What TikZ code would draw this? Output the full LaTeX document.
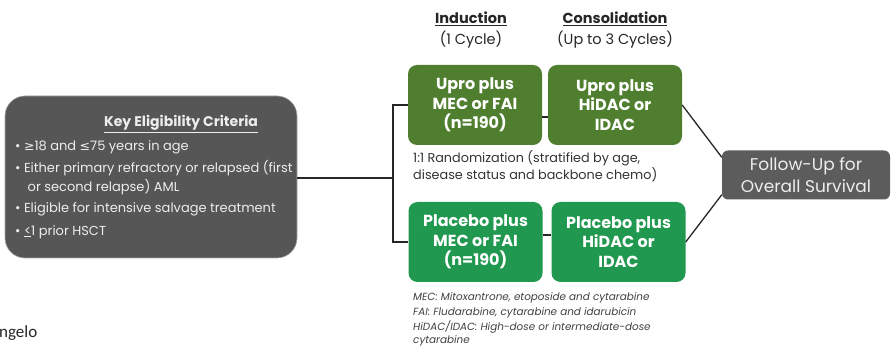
\documentclass[tikz,border=0pt]{standalone}
\usepackage{fontspec}
\setmainfont{Poppins}
\newfontfamily\symfont{DejaVu Sans}
\newfontfamily\notefont{Carlito}
\definecolor{boxgray}{HTML}{565656}
\definecolor{fugray}{HTML}{5C5C5C}
\definecolor{olivegreen}{HTML}{4F7E2F}
\definecolor{brightgreen}{HTML}{20984F}
\definecolor{softwhite}{HTML}{EDEDED}
\begin{document}
\begin{tikzpicture}[x=1pt,y=-1pt,
  critbox/.style={fill=boxgray,draw=gray!70,line width=0.6pt,rounded corners=20pt,
    minimum width=292pt,minimum height=162pt,inner sep=0pt},
  armbox/.style={rounded corners=9pt,minimum width=134pt,minimum height=80pt,
    inner sep=0pt,text=white,align=center,font=\fontsize{16}{19.5}\selectfont\bfseries},
  upro/.style={armbox,fill=olivegreen},
  placebo/.style={armbox,fill=brightgreen},
  fubox/.style={fill=fugray,rounded corners=6pt,minimum width=168pt,minimum height=49pt,
    inner sep=0pt,text=softwhite,align=center,font=\fontsize{17}{22}\selectfont},
  crit/.style={anchor=west,inner sep=0pt,text=softwhite,font=\fontsize{13}{15}\selectfont},
  head/.style={inner sep=0pt,text=black!85,font=\fontsize{14.5}{16}\selectfont},
  link/.style={line width=1.3pt,black!85},
  foot/.style={anchor=west,inner sep=0pt,text=black!75,font=\fontsize{10.4}{12}\selectfont\itshape}]
\useasboundingbox (0,0) rectangle (891,352);

% eligibility box
\node[critbox] (crit) at (151,177) {};
\node[inner sep=0pt,text=softwhite,font=\fontsize{14}{16}\selectfont\bfseries] (crittitle) at (181,124) {\underline{Key Eligibility Criteria}};
\node[crit] (c1) at (15,147) {• {\symfont\fontsize{12.5}{15}\selectfont ≥}18 and {\symfont\fontsize{12.5}{15}\selectfont ≤}75 years in age};
\node[crit] (c2) at (15,168) {• Either primary refractory or relapsed (first};
\node[crit] (c3) at (27.5,187) {or second relapse) AML};
\node[crit] (c4) at (15,209) {• Eligible for intensive salvage treatment};
\node[crit] (c5) at (15,232) {• \underline{<}1 prior HSCT};

% column headings
\node[head,font=\fontsize{14.5}{16}\selectfont\bfseries] (hind) at (471,19) {\underline{Induction}};
\node[head] (hindc) at (471,40) {(1 Cycle)};
\node[head,font=\fontsize{14.5}{16}\selectfont\bfseries] (hcon) at (615,19) {\underline{Consolidation}};
\node[head] (hconc) at (615,40) {(Up to 3 Cycles)};

% treatment arms
\node[upro] (tl) at (475,105) {Upro plus\\MEC or FAI\\(n=190)};
\node[upro] (tr) at (615,105) {Upro plus\\HiDAC or\\IDAC};
\node[placebo] (bl) at (475.5,242) {Placebo plus\\MEC or FAI\\(n=190)};
\node[placebo] (br) at (618.5,242) {Placebo plus\\HiDAC or\\IDAC};

% follow-up
\node[fubox] (fu) at (806,175) {Follow-Up for\\Overall Survival};

% randomization note
\node[anchor=north west,inner sep=0pt,align=left,text=black!80,
  font=\fontsize{12.8}{17}\selectfont] (rand) at (413,150)
  {1:1 Randomization (stratified by age,\\disease status and backbone chemo)};

% abbreviations
\node[foot] (f1) at (413,298) {MEC: Mitoxantrone, etoposide and cytarabine};
\node[foot] (f2) at (413,313) {FAI: Fludarabine, cytarabine and idarubicin};
\node[foot] (f3) at (413,327) {HiDAC/IDAC: High-dose or intermediate-dose};
\node[foot] (f4) at (413,341) {cytarabine};

% presenter name fragment
\node[anchor=west,inner sep=0pt,text=black!85,font=\notefont\fontsize{17}{20}\selectfont] (name) at (-1,333) {ngelo};

% connectors
\coordinate (split) at (393,178);
\draw[link] (crit.east |- split) -- (split);
\draw[link] (tl.west) -| (split) |- (bl.west);
\draw[link] ([yshift=-12pt]tl.east) -- ([yshift=-12pt]tl.east -| tr.west);
\draw[link] ([yshift=7pt]bl.east) -- ([yshift=7pt]bl.east -| br.west);
\draw[link] (tr.east) -- ([yshift=-7pt]fu.north west);
\draw[link] (br.east) -- ([yshift=5pt]fu.south west);
\end{tikzpicture}
\end{document}
